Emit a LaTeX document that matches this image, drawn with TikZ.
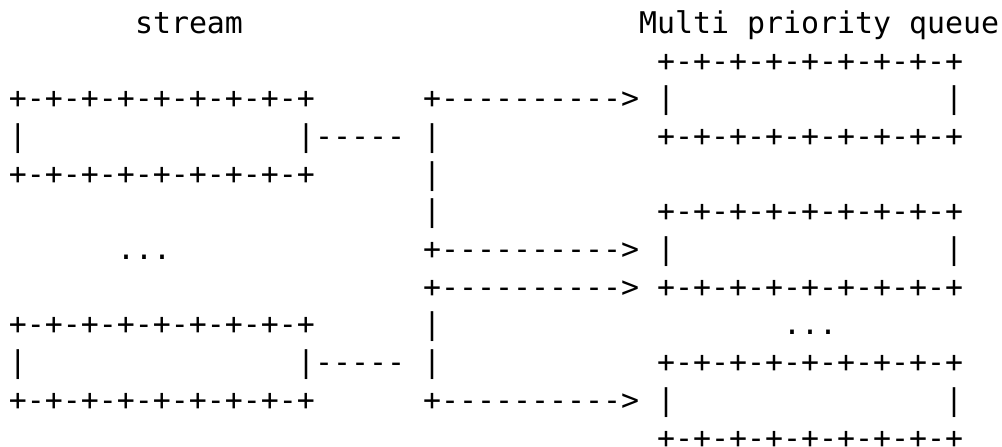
\documentclass[tikz,border=0pt]{standalone}
\usepackage{fontspec}
\usepackage{tikz}
\newfontfamily\asciifont[Ligatures=TeXOff]{DejaVu Sans Mono}
\tikzstyle{ascii} = [anchor=base west, inner sep=0pt, outer sep=0pt,
font=\asciifont\fontsize{29.9}{36}\selectfont, xshift=9pt, yshift=-33.3pt]
\newcommand{\boxline}{+-+-+-+-+-+-+-+-+}
\newcommand{\arrline}{+---------->}
\begin{document}
\begin{tikzpicture}[x=18pt,y=-37.7pt]
	\useasboundingbox (0pt,0pt) rectangle (1002pt,-447pt);
	% titles
	\node[ascii] (srctitle) at (7,0) {stream};
	\node[ascii] (qtitle) at (35,0) {Multi priority queue};

	% stream boxes
	\node[ascii] (s1top) at (0,2) {\boxline};
	\node[ascii] (s1l) at (0,3) {|};
	\node[ascii] (s1r) at (16,3) {|-----};
	\node[ascii] (s1bot) at (0,4) {\boxline};
	\node[ascii] (sdots) at (6,6) {...};
	\node[ascii] (s2top) at (0,8) {\boxline};
	\node[ascii] (s2l) at (0,9) {|};
	\node[ascii] (s2r) at (16,9) {|-----};
	\node[ascii] (s2bot) at (0,10) {\boxline};

	% bus and arrows
	\foreach \r in {3,4,5,8,9} {
		\node[ascii] (bus\r) at (23,\r) {|};
	}
	\foreach \r in {2,6,7,10} {
		\node[ascii] (arr\r) at (23,\r) {\arrline};
	}

	% queues
	\node[ascii] (q1top) at (36,1) {\boxline};
	\node[ascii] (q1l) at (36,2) {|};
	\node[ascii] (q1r) at (52,2) {|};
	\node[ascii] (q1bot) at (36,3) {\boxline};
	\node[ascii] (q2top) at (36,5) {\boxline};
	\node[ascii] (q2l) at (36,6) {|};
	\node[ascii] (q2r) at (52,6) {|};
	\node[ascii] (q2bot) at (36,7) {\boxline};
	\node[ascii] (qdots) at (43,8) {...};
	\node[ascii] (q3top) at (36,9) {\boxline};
	\node[ascii] (q3l) at (36,10) {|};
	\node[ascii] (q3r) at (52,10) {|};
	\node[ascii] (q3bot) at (36,11) {\boxline};
\end{tikzpicture}
\end{document}
